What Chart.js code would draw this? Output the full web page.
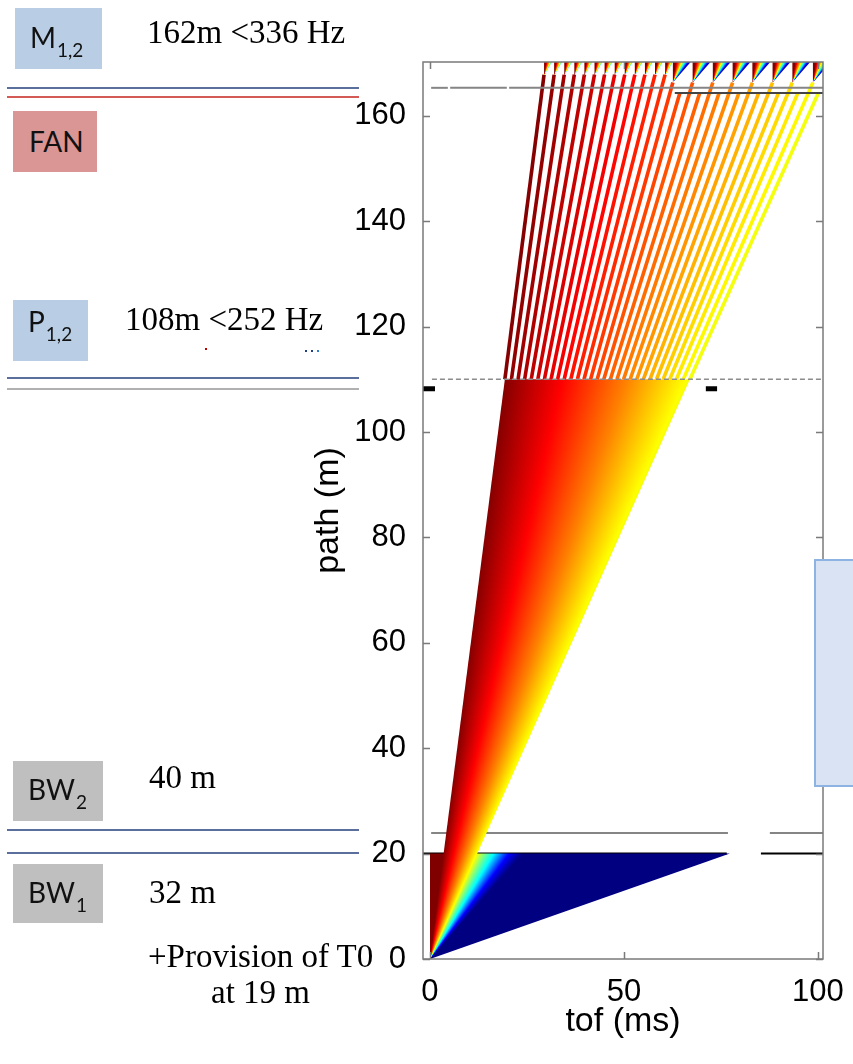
<!DOCTYPE html>
<html>
<head>
<meta charset="utf-8">
<script src="https://cdn.jsdelivr.net/npm/chart.js@4.4.0/dist/chart.umd.min.js"></script>
<style>
html, body { margin: 0; padding: 0; background: #fff; }
body { width: 853px; height: 1064px; position: relative; overflow: hidden; }
#c { position: absolute; left: 0; top: 0; }
.panel { position: absolute; }
.lbl { position: absolute; font-family: Lato, "Open Sans", sans-serif; font-size: 28px; line-height: 28px; color: #111; white-space: nowrap; }
.sub { font-size: 19px; position: relative; top: 9px; margin-left: 1px; }
.note { position: absolute; font-family: "Liberation Serif", serif; font-size: 33px; line-height: 33px; color: #000; white-space: nowrap; }
.hl { position: absolute; left: 7px; width: 352px; height: 2px; }
#side { position: absolute; left: 814px; top: 559px; width: 60px; height: 224px; background: #dae3f3; border: 2px solid #8db3e2; }
</style>
</head>
<body>
<canvas id="c" width="853" height="1064"></canvas>

<div class="panel" style="left:15px;top:8px;width:87px;height:61px;background:#b9cde5"></div>
<span class="lbl" style="left:30px;top:23px">M<span class="sub">1,2</span></span>
<span class="note" style="left:147px;top:16px">162m &lt;336 Hz</span>
<div class="hl" style="top:87px;background:#5b6f9c"></div>
<div class="hl" style="top:96px;background:#d45a55"></div>

<div class="panel" style="left:13px;top:111px;width:84px;height:61px;background:#d99694"></div>
<span class="lbl" style="left:29px;top:127px">FAN</span>

<div class="panel" style="left:13px;top:300px;width:75px;height:61px;background:#b9cde5"></div>
<span class="lbl" style="left:28px;top:307px">P<span class="sub">1,2</span></span>
<span class="note" style="left:125px;top:303px">108m &lt;252 Hz</span>
<span style="position:absolute;left:205px;top:348px;width:2px;height:2px;background:#c00000"></span>
<span style="position:absolute;left:305px;top:350px;width:2px;height:2px;background:#1f3f7f"></span>
<span style="position:absolute;left:311px;top:350px;width:2px;height:2px;background:#1f3f7f"></span>
<span style="position:absolute;left:317px;top:350px;width:2px;height:2px;background:#2f7fcf"></span>
<div class="hl" style="top:377px;background:#5b6f9c"></div>
<div class="hl" style="top:388px;background:#b0b0b0"></div>

<div class="panel" style="left:13px;top:761px;width:90px;height:60px;background:#bfbfbf"></div>
<span class="lbl" style="left:28px;top:775px">BW<span class="sub">2</span></span>
<span class="note" style="left:149px;top:761px">40 m</span>
<div class="hl" style="top:829px;background:#5b6f9c"></div>
<div class="hl" style="top:852px;background:#5b6f9c"></div>

<div class="panel" style="left:13px;top:864px;width:90px;height:59px;background:#bfbfbf"></div>
<span class="lbl" style="left:28px;top:878px">BW<span class="sub">1</span></span>
<span class="note" style="left:149px;top:876px">32 m</span>
<span class="note" style="left:148px;top:940px">+Provision of T0</span>
<span class="note" style="left:211px;top:976px">at 19 m</span>

<div id="side"></div>

<script>
// axis ticks
const xTicks = [0, 50, 100];
const yTicks = [0, 20, 40, 60, 80, 100, 120, 140, 160];

// jet colours against slowness (ms per m) of a neutron
const slowStops = [0.17, 0.31, 0.46, 0.60, 0.70, 0.82, 1.02, 1.20];
const slowColors = ['#800000', '#ff0000', '#ff8000', '#ffff00', '#80ff80', '#00ffff', '#0000ff', '#000080'];

// full fan from the source up to the first bandwidth chopper
const lowFanTof = [0, 0, 77.3];
const lowFanPath = [0, 20, 20];

// band passed by the bandwidth choppers, up to the pulse shaping chopper
const midFanTof = [0, 19.3, 67.0];
const midFanPath = [0, 110, 110];

// sub-pulses after the pulse shaping chopper (tof at 110 m, end tof, end path)
const streakStart = [19.3, 21.0, 22.7, 24.4, 26.1, 27.8, 29.5, 31.2, 32.9, 34.6, 36.3, 38.0, 39.7, 41.4, 43.1,
                     44.8, 46.5, 48.2, 49.9, 51.6, 53.3, 55.0, 56.7, 58.4, 60.1, 61.8, 63.5, 65.3, 67.0];
const streakEnd = [29.4, 32.0, 34.6, 37.2, 39.8, 42.4, 45.0, 47.6, 50.2, 52.8, 55.4, 58.0, 60.6, 62.6, 64.4,
                   67.7, 69.5, 72.9, 74.5, 78.0, 79.6, 83.1, 84.7, 88.3, 89.8, 93.4, 94.8, 98.7, 100.1];
const streakTop = [167.8, 167.8, 167.8, 167.8, 167.8, 167.8, 167.8, 167.8, 167.8, 167.8, 167.8, 167.8, 167.8, 166.3, 164.3,
                   166.3, 164.3, 166.3, 164.3, 166.3, 164.3, 166.3, 164.3, 166.3, 164.3, 166.3, 164.3, 166.3, 164.3];

// small fans at the monochromating choppers
const miniTof = [29.4, 32.0, 34.6, 37.2, 39.8, 42.4, 45.0, 47.6, 50.2, 52.8, 55.4, 58.0, 60.6,
                 62.6, 67.7, 72.9, 78.0, 83.1, 88.3, 93.4, 98.7];
const miniPath = [167.6, 167.6, 167.6, 167.6, 167.6, 167.6, 167.6, 167.6, 167.6, 167.6, 167.6, 167.6, 167.6,
                  166.3, 166.3, 166.3, 166.3, 166.3, 166.3, 166.3, 166.3];
const miniWidth = [2.0, 2.0, 2.0, 2.0, 2.0, 2.0, 2.0, 2.0, 2.0, 2.0, 2.0, 2.0, 2.0,
                   4.6, 4.6, 4.6, 4.6, 4.6, 4.6, 4.6, 4.6];

// chopper positions drawn as horizontal segments
const hLineY    = [165.3, 165.3, 165.3, 164.3, 110.0, 108.2, 108.2, 23.9, 23.9, 20.0, 20.0];
const hLineFrom = [0.3, 5.2, 20.4, 63.1, 0.5, -1.8, 71.1, 0.3, 87.6, -1.8, 85.3];
const hLineTo   = [4.6, 19.8, 101.3, 101.3, 101.3, 1.3, 74.0, 76.8, 101.3, 76.5, 101.3];
const hLineKind = ['gray', 'gray', 'gray', 'dark', 'dash', 'mark', 'mark', 'grayLow', 'grayLow', 'black', 'black'];

const X_MIN = -1.8, X_MAX = 101.3, Y_MIN = 0, Y_MAX = 170.2;
const FONT = "'Liberation Sans', Arial, sans-serif";

const lineStyles = {
    gray:    { color: '#858585', width: 2, dash: [], order: 0 },
    dark:    { color: '#444444', width: 2, dash: [], order: 0 },
    dash:    { color: '#8c8c8c', width: 1.3, dash: [5, 3], order: 0 },
    mark:    { color: '#000000', width: 5, dash: [], order: 0 },
    grayLow: { color: '#858585', width: 2, dash: [], order: 6 },
    black:   { color: '#000000', width: 2, dash: [], order: 6 }
};

function hexRgb(h) {
    return [parseInt(h.slice(1, 3), 16), parseInt(h.slice(3, 5), 16), parseInt(h.slice(5, 7), 16)];
}

// colour of a neutron with slowness s
function colorAt(s) {
    if (s <= slowStops[0]) return slowColors[0];
    for (let i = 1; i < slowStops.length; i++) {
        if (s <= slowStops[i]) {
            const f = (s - slowStops[i - 1]) / (slowStops[i] - slowStops[i - 1]);
            const a = hexRgb(slowColors[i - 1]), b = hexRgb(slowColors[i]);
            const c = a.map((v, k) => Math.round(v + (b[k] - v) * f));
            return `rgb(${c[0]},${c[1]},${c[2]})`;
        }
    }
    return slowColors[slowColors.length - 1];
}

// conic gradient centred on the fan apex, colour by angle (= slowness)
function fanFill(context) {
    const chart = context.chart;
    const ds = context.dataset;
    if (!chart.chartArea || !chart.scales.x) return 'rgba(0,0,0,0)';
    const xs = chart.scales.x, ys = chart.scales.y;
    const cx = xs.getPixelForValue(ds.apex[0]);
    const cy = ys.getPixelForValue(ds.apex[1]);
    const kx = Math.abs(xs.getPixelForValue(1) - xs.getPixelForValue(0));
    const ky = Math.abs(ys.getPixelForValue(1) - ys.getPixelForValue(0));
    const ctx = chart.ctx;
    if (!ctx.createConicGradient) return colorAt(0.5);
    const g = ctx.createConicGradient(-Math.PI / 2, cx, cy);
    g.addColorStop(0, slowColors[0]);
    slowStops.forEach((s, i) => {
        const ang = Math.atan2(-ky, s * kx);
        g.addColorStop((ang + Math.PI / 2) / (2 * Math.PI), slowColors[i]);
    });
    g.addColorStop(0.7, slowColors[slowColors.length - 1]);
    g.addColorStop(0.71, slowColors[0]);
    g.addColorStop(1, slowColors[0]);
    return g;
}

function pts(xs, ys) {
    return xs.map((x, i) => ({ x: x, y: ys[i] }));
}

const datasets = [];

// horizontal chopper lines
hLineY.forEach((y, i) => {
    const st = lineStyles[hLineKind[i]];
    datasets.push({
        data: [{ x: hLineFrom[i], y: y }, { x: hLineTo[i], y: y }],
        borderColor: st.color,
        borderWidth: st.width,
        borderDash: st.dash,
        borderCapStyle: 'butt',
        order: st.order
    });
});

// little fans at the top
miniTof.forEach((t, i) => {
    datasets.push({
        data: [{ x: t, y: miniPath[i] }, { x: t, y: Y_MAX }, { x: t + miniWidth[i], y: Y_MAX }],
        apex: [t, miniPath[i]],
        backgroundColor: fanFill,
        borderWidth: 0,
        borderColor: 'rgba(0,0,0,0)',
        fill: 'shape',
        order: 1
    });
});

// sub-pulse streaks
streakStart.forEach((t, i) => {
    datasets.push({
        data: [{ x: t, y: 110 }, { x: streakEnd[i], y: streakTop[i] }],
        borderColor: colorAt(t / 110),
        borderWidth: 3.6,
        borderCapStyle: 'butt',
        order: 2
    });
});

// the two big fans
datasets.push({
    data: pts(midFanTof, midFanPath),
    apex: [midFanTof[0], midFanPath[0]],
    backgroundColor: fanFill,
    borderWidth: 0,
    borderColor: 'rgba(0,0,0,0)',
    fill: 'shape',
    order: 3
});
datasets.push({
    data: pts(lowFanTof, lowFanPath),
    apex: [lowFanTof[0], lowFanPath[0]],
    backgroundColor: fanFill,
    borderWidth: 0,
    borderColor: 'rgba(0,0,0,0)',
    fill: 'shape',
    order: 4
});

// frame and inward tick marks, as in the matlab figure
const framePlugin = {
    id: 'frame',
    afterDatasetsDraw(chart) {
        const { ctx, chartArea: a, scales: { x, y } } = chart;
        ctx.save();
        ctx.strokeStyle = '#7a7a7a';
        ctx.lineWidth = 1.5;
        ctx.strokeRect(a.left, a.top, a.right - a.left, a.bottom - a.top);
        ctx.beginPath();
        xTicks.forEach(v => {
            const px = Math.round(x.getPixelForValue(v)) + 0.5;
            ctx.moveTo(px, a.bottom); ctx.lineTo(px, a.bottom - 7);
            ctx.moveTo(px, a.top); ctx.lineTo(px, a.top + 7);
        });
        yTicks.forEach(v => {
            const py = Math.round(y.getPixelForValue(v)) + 0.5;
            ctx.moveTo(a.left, py); ctx.lineTo(a.left + 7, py);
            ctx.moveTo(a.right, py); ctx.lineTo(a.right - 7, py);
        });
        ctx.stroke();
        ctx.restore();
    }
};

new Chart(document.getElementById('c'), {
    type: 'scatter',
    data: { datasets: datasets },
    options: {
        responsive: false,
        animation: false,
        showLine: true,
        layout: { padding: { left: 0, right: 30, top: 62, bottom: 0 } },
        elements: { point: { radius: 0, hoverRadius: 0 }, line: { tension: 0 } },
        plugins: { legend: { display: false }, tooltip: { enabled: false } },
        scales: {
            x: {
                type: 'linear',
                min: X_MIN,
                max: X_MAX,
                afterBuildTicks: s => { s.ticks = xTicks.map(v => ({ value: v })); },
                afterFit: s => { s.height = 105; s.paddingLeft = 0; s.paddingRight = 0; },
                grid: { display: false, drawTicks: false },
                border: { display: false },
                ticks: { color: '#000', font: { family: FONT, size: 31 }, padding: 15, maxRotation: 0, autoSkip: false },
                title: { display: true, text: 'tof (ms)', color: '#000', font: { family: FONT, size: 34 }, padding: { top: 0, bottom: 22 } }
            },
            y: {
                type: 'linear',
                min: Y_MIN,
                max: Y_MAX,
                afterBuildTicks: s => { s.ticks = yTicks.map(v => ({ value: v })); },
                afterFit: s => { s.width = 423; s.paddingTop = 0; s.paddingBottom = 0; },
                grid: { display: false, drawTicks: false },
                border: { display: false },
                ticks: { color: '#000', font: { family: FONT, size: 31 }, padding: 17, autoSkip: false },
                title: { display: true, text: 'path (m)', color: '#000', font: { family: FONT, size: 34 }, padding: { top: 308, bottom: 0 } }
            }
        }
    },
    plugins: [framePlugin]
});
</script>
</body>
</html>
